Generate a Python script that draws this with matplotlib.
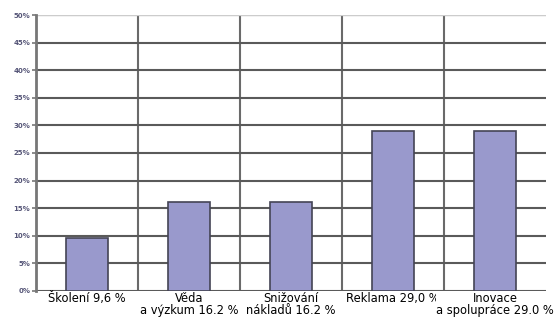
import matplotlib.pyplot as plt
from matplotlib.ticker import MultipleLocator, PercentFormatter

categories = ["Školení 9,6 %", "Věda\na výzkum 16.2 %", "Snižování\nnákladů 16.2 %",
              "Reklama 29,0 %", "Inovace\na spolupráce 29.0 %"]
values = [9.6, 16.2, 16.2, 29.0, 29.0]

plt.rcParams['font.family'] = ['DejaVu Sans']

fig = plt.figure(figsize=(5.6, 3.2), dpi=100)
ax = fig.add_axes([0.064, 0.091, 0.911, 0.862])

x = range(len(values))
ax.bar(x, values, width=0.41, color="#9999cc", edgecolor="#444455", linewidth=1.2, zorder=3)

ax.set_xlim(-0.5, len(values) - 0.5)
ax.set_ylim(0, 50)
ax.yaxis.set_major_locator(MultipleLocator(5))
ax.yaxis.set_major_formatter(PercentFormatter(decimals=0))
ax.grid(axis="y", color="#5a5a5a", linewidth=1.5, zorder=1)
for b in [i + 0.5 for i in range(len(values) - 1)]:
    ax.axvline(b, color="#6a6a6a", linewidth=1.5, zorder=1)
ax.axhline(50, color="#cccccc", linewidth=1.6, zorder=2)

for s in ["top", "right", "bottom"]:
    ax.spines[s].set_visible(False)
ax.spines["left"].set_color("#777777")
ax.spines["left"].set_linewidth(2)
ax.set_xticks([])
ax.tick_params(axis="y", labelsize=5, labelcolor="#555577", color="#777777",
               length=3, width=1.2, pad=1)
for t in ax.get_yticklabels():
    t.set_fontweight("bold")

# category labels with white boxes so they overlap like the original
for i, lab in enumerate(categories):
    ax.text(i, -0.25, lab, ha="center", va="top", fontsize=8.3, linespacing=0.92,
            transform=ax.transData, clip_on=False, zorder=5 + i,
            bbox=dict(facecolor="white", edgecolor="none", pad=0.3))

fig.savefig("out.png", dpi=100)
